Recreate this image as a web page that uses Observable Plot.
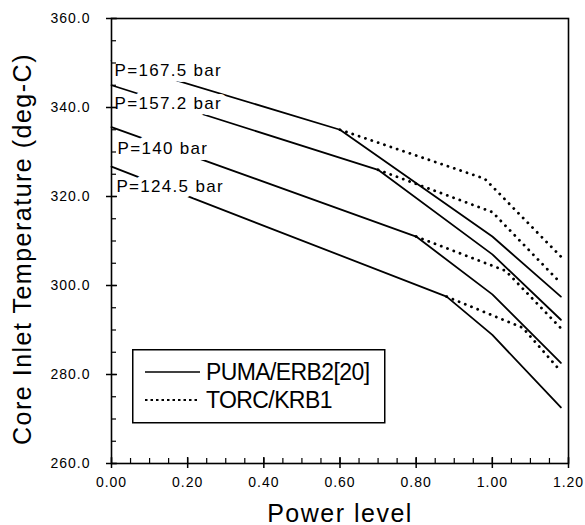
<!DOCTYPE html>
<html><head><meta charset="utf-8">
<script src="https://cdn.jsdelivr.net/npm/d3@7"></script>
<script src="https://cdn.jsdelivr.net/npm/@observablehq/plot@0.6"></script>
<style>
body{margin:0;background:#fff;}
#wrap{position:relative;width:585px;height:525px;}
g[font-size="14"] text{letter-spacing:1px}
g[font-size="17"] text{letter-spacing:1.3px}
g[font-size="25"] text{letter-spacing:1.5px}
#legend{position:absolute;left:132px;top:349px;}
</style>
</head><body>
<div id="wrap"></div>
<script>
// ---- data ----
const pressureLabels = ["P=167.5 bar", "P=157.2 bar", "P=140 bar", "P=124.5 bar"];
const labelPower = [0.008, 0.008, 0.016, 0.013];
const labelTemp = [348.3, 341.0, 330.8, 322.2];

// PUMA/ERB2[20] (solid)
const pumaPower = [[0, 0.6, 1.0, 1.18], [0, 0.7, 1.0, 1.18], [0, 0.8, 1.0, 1.18], [0, 0.88, 1.0, 1.18]];
const pumaTemp = [[350.5, 335.0, 311.0, 297.5], [345.0, 326.0, 307.0, 292.3], [335.6, 311.0, 298.0, 282.6], [326.7, 297.5, 288.9, 272.6]];
// TORC/KRB1 (dotted) – from the point where it leaves PUMA
const torcPower = [[0.6, 0.98, 1.18], [0.7, 1.0, 1.18], [0.8, 1.035, 1.18], [0.88, 1.08, 1.18]];
const torcTemp = [[335.0, 324.0, 306.5], [326.0, 316.5, 300.5], [311.0, 303.3, 290.4], [297.5, 290.5, 280.7]];

const seriesNames = ["PUMA/ERB2[20]", "TORC/KRB1"];
const xMajor = [0, 0.2, 0.4, 0.6, 0.8, 1.0, 1.2];
const xMinor = d3.range(0, 1.2001, 0.05);
const yMajor = [260, 280, 300, 320, 340, 360];
const yMinor = d3.range(260, 360.001, 5);
const xTitle = "Power level";
const yTitle = "Core Inlet Temperature (deg-C)";

// ---- build ----
const W = 585, H = 525, mL = 111, mR = 17, mT = 18, mB = 62;
const plotW = W - mL - mR, plotH = H - mT - mB;
const pumaData = pressureLabels.flatMap((s, i) => pumaPower[i].map((x, j) => ({s, x, y: pumaTemp[i][j]})));
const torcData = pressureLabels.flatMap((s, i) => torcPower[i].map((x, j) => ({s, x, y: torcTemp[i][j]})));
const labelData = pressureLabels.map((label, i) => ({label, x: labelPower[i], y: labelTemp[i]}));
const font = "'Liberation Sans', Arial, Helvetica, sans-serif";

const chart = Plot.plot({
  width: W, height: H,
  marginLeft: mL, marginRight: mR, marginTop: mT, marginBottom: mB,
  x: {domain: [0, 1.2]},
  y: {domain: [260, 360]},
  style: {fontFamily: font, background: "white", color: "black"},
  marks: [
    Plot.line(torcData, {x: "x", y: "y", z: "s", stroke: "black", strokeWidth: 2.8, strokeDasharray: "0.1,6.6", strokeLinecap: "round"}),
    Plot.line(pumaData, {x: "x", y: "y", z: "s", stroke: "black", strokeWidth: 1.8}),
    Plot.text(labelData, {x: "x", y: "y", text: "label", textAnchor: "start", lineAnchor: "middle", fontSize: 17, fill: "black", stroke: "white", strokeWidth: 12, paintOrder: "stroke"}),
    Plot.frame({stroke: "black", strokeWidth: 1.6}),
    Plot.tickX(xMinor, {x: d => d, insetTop: plotH - 5, stroke: "black", strokeWidth: 1.2}),
    Plot.tickX(xMajor, {x: d => d, insetTop: plotH - 6, stroke: "black", strokeWidth: 1.5}),
    Plot.tickY(yMinor, {y: d => d, insetRight: plotW - 5, stroke: "black", strokeWidth: 1.2}),
    Plot.tickY(yMajor, {y: d => d, insetRight: plotW - 6, stroke: "black", strokeWidth: 1.5}),
    Plot.axisX({ticks: xMajor, tickFormat: d3.format(".2f"), tickSize: 5, tickPadding: 9, fontSize: 14, label: null, strokeWidth: 1.5}),
    Plot.axisY({ticks: yMajor, tickFormat: d3.format(".1f"), tickSize: 5, tickPadding: 16, fontSize: 14, label: null, strokeWidth: 1.5}),
    Plot.text([xTitle], {frameAnchor: "bottom", dy: 50, textAnchor: "middle", lineAnchor: "middle", fontSize: 25, fill: "black"}),
    Plot.text([yTitle], {frameAnchor: "left", rotate: -90, dx: -89, dy: 8, textAnchor: "middle", lineAnchor: "middle", fontSize: 25, fill: "black"})
  ]
});
const wrap = document.getElementById("wrap");
wrap.appendChild(chart);

// ---- legend (inside the frame, lower left) ----
const lg = d3.select(wrap).append("svg").attr("id", "legend").attr("width", 254).attr("height", 75);
lg.append("rect").attr("x", 0.75).attr("y", 0.75).attr("width", 252).attr("height", 73)
  .attr("fill", "white").attr("stroke", "black").attr("stroke-width", 1.5);
const rowsY = [23, 51];
const dashes = [null, "2.5,3"];
seriesNames.forEach((name, i) => {
  lg.append("line").attr("x1", 13).attr("x2", 68).attr("y1", rowsY[i]).attr("y2", rowsY[i])
    .attr("stroke", "black").attr("stroke-width", i ? 2 : 1.6).attr("stroke-dasharray", dashes[i]);
  lg.append("text").attr("x", 74).attr("y", rowsY[i] + 7.5).text(name)
    .attr("font-family", font).attr("font-size", 23).attr("letter-spacing", "-0.6px").attr("fill", "black");
});
</script>
</body></html>
